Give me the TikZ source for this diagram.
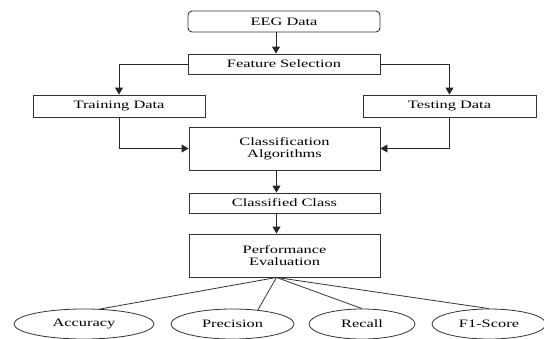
\documentclass[tikz,border=0pt]{standalone}
\usepackage{fontspec}
\setmainfont{Liberation Serif}[FakeStretch=1.45]
\usetikzlibrary{shapes.geometric, arrows.meta}

\begin{document}
\begin{tikzpicture}[x=1pt, y=-1pt,
  box/.style={rectangle, draw=black!80, line width=0.9pt, inner sep=0pt, text centered, font=\fontsize{11.3}{12.5}\selectfont},
  oval/.style={ellipse, draw=black!80, line width=0.8pt, inner sep=0pt, minimum height=30pt, font=\fontsize{11.3}{12.5}\selectfont},
  arrow/.style={-{Triangle[length=7pt, width=8pt]}, line width=0.9pt, draw=black!85}]
\useasboundingbox (0,0) rectangle (544,338);

\node (eeg) [box, rounded corners=4pt, minimum width=192pt, minimum height=21pt] at (284,21.5) {EEG Data};
\node (feature) [box, minimum width=192pt, minimum height=20pt] at (284,64) {Feature Selection};
\node (training) [box, minimum width=172pt, minimum height=22pt] at (119,106) {Training Data};
\node (testing) [box, minimum width=173pt, minimum height=22pt] at (449.5,106) {Testing Data};
\node (classalg) [box, align=center, minimum width=191pt, minimum height=43pt] at (284.5,148.5) {Classification\\Algorithms};
\node (classified) [box, minimum width=191pt, minimum height=20pt] at (284.5,203) {Classified Class};
\node (perf) [box, align=center, minimum width=191pt, minimum height=43pt] at (284.5,255.5) {Performance\\Evaluation};

\node (acc) [oval, minimum width=140pt] at (84,324) {Accuracy};
\node (prec) [oval, minimum width=123pt] at (232.5,324) {Precision};
\node (recall) [oval, minimum width=106pt] at (362,324) {Recall};
\node (fscore) [oval, minimum width=114pt] at (489,324) {F1-Score};

\draw[arrow] ([xshift=-8pt]eeg.south) -- ([xshift=-8pt]feature.north);
\draw[arrow] (feature.west) -| (training.north);
\draw[arrow] (feature.east) -| (testing.north);
\draw[arrow] (training.south) |- (classalg.west);
\draw[arrow] (testing.south) |- (classalg.east);
\draw[arrow] ([xshift=-8pt]classalg.south) -- ([xshift=-8pt]classified.north);
\draw[arrow] ([xshift=-8pt]classified.south) -- ([xshift=-8pt]perf.north);

\draw[draw=black!80, line width=0.8pt] ([xshift=-8pt]perf.south) -- (acc.43);
\draw[draw=black!80, line width=0.8pt] ([xshift=-8pt]perf.south) -- (prec.29);
\draw[draw=black!80, line width=0.8pt] ([xshift=-8pt]perf.south) -- (recall.north);
\draw[draw=black!80, line width=0.8pt] ([xshift=-8pt]perf.south) -- (fscore.north);

\end{tikzpicture}
\end{document}
